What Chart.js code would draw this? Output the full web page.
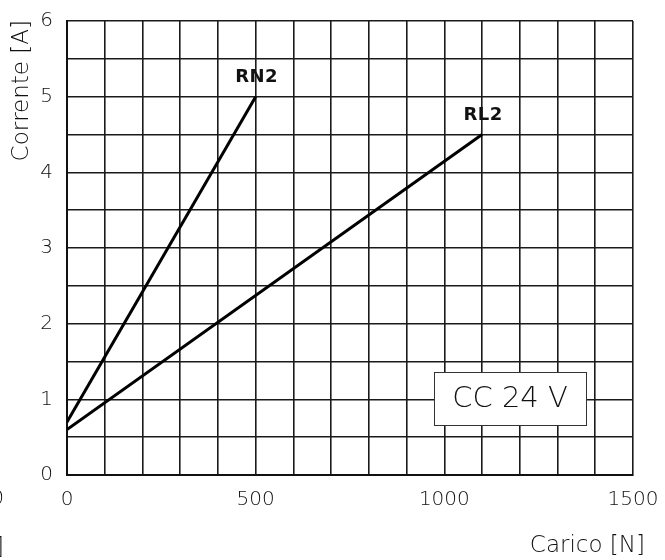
<!DOCTYPE html>
<html>
<head>
<meta charset="utf-8">
<script src="https://cdn.jsdelivr.net/npm/chart.js@4"></script>
<style>
    html, body { margin: 0; padding: 0; background: #fff; }
    #wrap { width: 665px; height: 560px; }
</style>
</head>
<body>
<div id="wrap"><canvas id="chart" width="665" height="560"></canvas></div>
<script>
/**=================
 * Data
 =================*/
const loadRN2 = [0, 500];
const currentRN2 = [0.7, 5.0];
const loadRL2 = [0, 1100];
const currentRL2 = [0.6, 4.5];

const xTickLabels = [0, 500, 1000, 1500];
const yTickLabels = [0, 1, 2, 3, 4, 5, 6];

const toPoints = (xs, ys) => xs.map((x, i) => ({ x: x, y: ys[i] }));

const FONT = '"DejaVu Sans", "Liberation Sans", sans-serif';

/**=================
 * Extra texts
 =================*/
const annotations = {
    id: 'annotations',
    afterDraw(chart) {
        const { ctx, chartArea, scales } = chart;
        ctx.save();
        ctx.fillStyle = '#111';

        // series labels above the last point
        ctx.font = 'bold 18px ' + FONT;
        ctx.letterSpacing = '0.5px';
        ctx.textAlign = 'center';
        ctx.textBaseline = 'middle';
        chart.data.datasets.forEach(ds => {
            const last = ds.data[ds.data.length - 1];
            ctx.fillText(ds.label, scales.x.getPixelForValue(last.x) + 1, scales.y.getPixelForValue(last.y) - 19);
        });
        ctx.letterSpacing = '0px';

        // CC 24 V box
        const bx = chartArea.left + 367, by = chartArea.top + 351, bw = 152, bh = 53;
        ctx.fillStyle = '#fff';
        ctx.fillRect(bx, by, bw, bh);
        ctx.strokeStyle = '#333';
        ctx.lineWidth = 1;
        ctx.strokeRect(bx + 0.5, by + 0.5, bw, bh);
        ctx.fillStyle = '#111';
        ctx.font = '300 29px ' + FONT;
        ctx.fillText('CC 24 V', bx + bw / 2, by + bh / 2 + 1);

        // axis titles
        ctx.font = '300 23px ' + FONT;
        ctx.textAlign = 'right';
        ctx.fillText('Carico [N]', chartArea.right + 12, 546);
        ctx.save();
        ctx.translate(22, chartArea.top - 1);
        ctx.rotate(-Math.PI / 2);
        ctx.textAlign = 'right';
        ctx.fillText('Corrente [A]', 0, 0);
        ctx.restore();

        // cut-off labels at left edge
        ctx.font = '300 20px ' + FONT;
        ctx.textAlign = 'right';
        ctx.fillText('0', 4, 499);
        ctx.font = '300 23px ' + FONT;
        ctx.fillText('[N]', 4, 548);

        ctx.restore();
    }
};

/**=================
 * Chart
 =================*/
const ctx = document.getElementById('chart');
new Chart(ctx, {
    type: 'scatter',
    data: {
        datasets: [
            {
                label: 'RN2',
                data: toPoints(loadRN2, currentRN2),
                showLine: true,
                borderColor: '#000',
                borderWidth: 3,
                pointRadius: 0
            },
            {
                label: 'RL2',
                data: toPoints(loadRL2, currentRL2),
                showLine: true,
                borderColor: '#000',
                borderWidth: 3,
                pointRadius: 0
            }
        ]
    },
    options: {
        responsive: false,
        animation: false,
        layout: { padding: { left: 0, right: 32, top: 21, bottom: 0 } },
        plugins: {
            legend: { display: false },
            tooltip: { enabled: false }
        },
        scales: {
            x: {
                type: 'linear',
                min: 0,
                max: 1500,
                afterFit: scale => {
                    scale.height = 85;
                    scale.paddingLeft = 0;
                    scale.paddingRight = 0;
                },
                ticks: {
                    stepSize: 100,
                    autoSkip: false,
                    maxRotation: 0,
                    padding: 13,
                    color: '#111',
                    font: { family: FONT, size: 20, weight: 300 },
                    callback: v => xTickLabels.includes(v) ? v : ''
                },
                grid: { color: '#1a1a1a', lineWidth: 1.6, drawTicks: false },
                border: { color: '#111', width: 2 }
            },
            y: {
                type: 'linear',
                min: 0,
                max: 6,
                afterFit: scale => {
                    scale.width = 67;
                    scale.paddingTop = 0;
                    scale.paddingBottom = 0;
                },
                ticks: {
                    stepSize: 0.5,
                    autoSkip: false,
                    padding: 14,
                    color: '#111',
                    font: { family: FONT, size: 20, weight: 300 },
                    callback: v => yTickLabels.includes(v) ? v : ''
                },
                grid: { color: '#1a1a1a', lineWidth: 1.6, drawTicks: false },
                border: { color: '#111', width: 2 }
            }
        }
    },
    plugins: [annotations]
});
</script>
</body>
</html>
